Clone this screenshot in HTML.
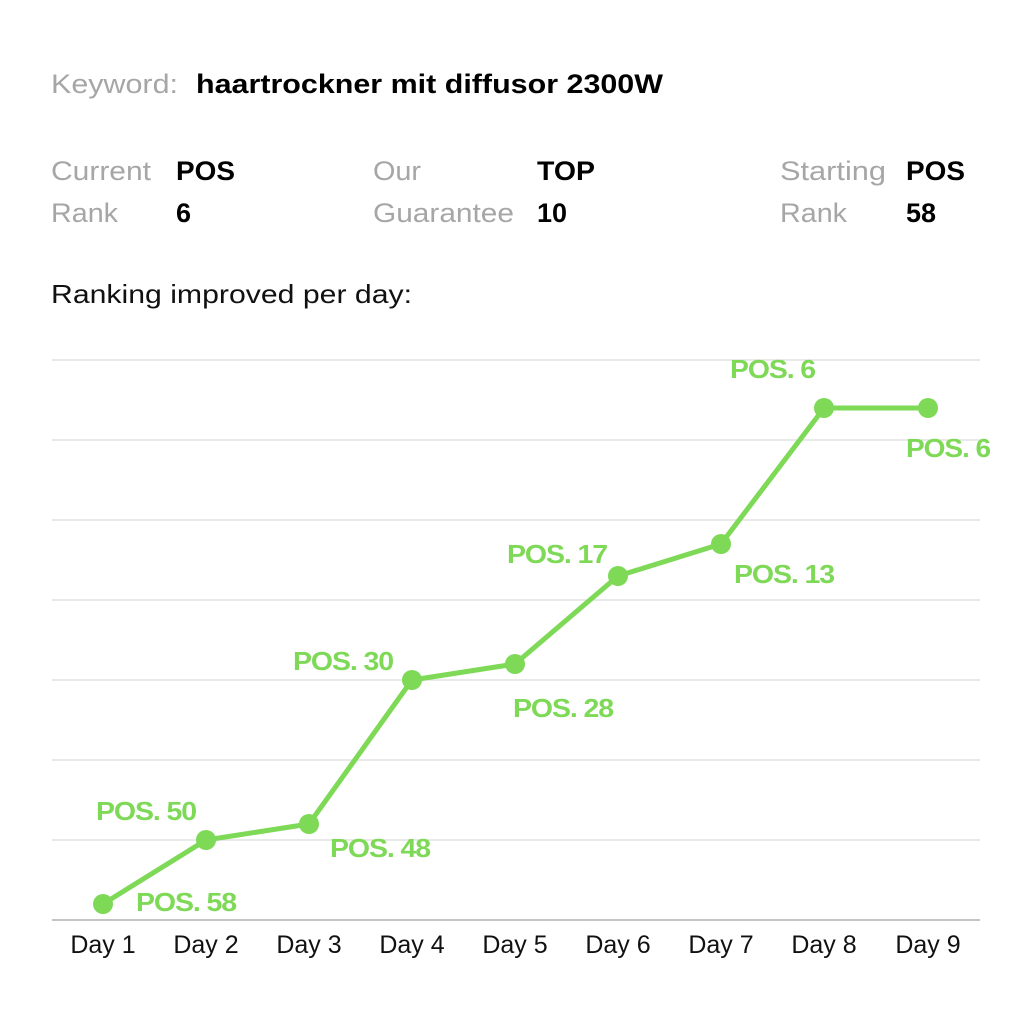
<!DOCTYPE html>
<html><head><style>body{margin:0;background:#fff}svg{display:block}</style></head><body>
<svg width="1024" height="1024" xmlns="http://www.w3.org/2000/svg" font-family="Liberation Sans, sans-serif">
<rect width="1024" height="1024" fill="#fff"/>
<g font-size="27" fill="#a6a6a6">
<text x="51" y="93" textLength="127" lengthAdjust="spacingAndGlyphs">Keyword:</text>
<text x="51" y="180" textLength="100" lengthAdjust="spacingAndGlyphs">Current</text><text x="51" y="222" textLength="67" lengthAdjust="spacingAndGlyphs">Rank</text>
<text x="373" y="180" textLength="48" lengthAdjust="spacingAndGlyphs">Our</text><text x="373" y="222" textLength="141" lengthAdjust="spacingAndGlyphs">Guarantee</text>
<text x="780" y="180" textLength="106" lengthAdjust="spacingAndGlyphs">Starting</text><text x="780" y="222" textLength="67" lengthAdjust="spacingAndGlyphs">Rank</text>
</g>
<g font-size="27" font-weight="bold" fill="#000">
<text x="196" y="93" textLength="467" lengthAdjust="spacingAndGlyphs">haartrockner mit diffusor 2300W</text>
<text x="176" y="180" textLength="59" lengthAdjust="spacingAndGlyphs">POS</text><text x="176" y="222">6</text>
<text x="537" y="180" textLength="58" lengthAdjust="spacingAndGlyphs">TOP</text><text x="537" y="222">10</text>
<text x="906" y="180" textLength="59" lengthAdjust="spacingAndGlyphs">POS</text><text x="906" y="222">58</text>
</g>
<text x="51" y="303" font-size="26" fill="#111" textLength="361" lengthAdjust="spacingAndGlyphs">Ranking improved per day:</text>
<g stroke="#dcdcdc" stroke-width="1.2">
<line x1="52" x2="980" y1="360" y2="360"/><line x1="52" x2="980" y1="440" y2="440"/>
<line x1="52" x2="980" y1="520" y2="520"/><line x1="52" x2="980" y1="600" y2="600"/>
<line x1="52" x2="980" y1="680" y2="680"/><line x1="52" x2="980" y1="760" y2="760"/>
<line x1="52" x2="980" y1="840" y2="840"/>
</g>
<line x1="52" x2="980" y1="920" y2="920" stroke="#b0b0b0" stroke-width="1.5"/>
<g font-size="25" fill="#111" text-anchor="middle">
<text x="103" y="953">Day 1</text><text x="206" y="953">Day 2</text><text x="309" y="953">Day 3</text>
<text x="412" y="953">Day 4</text><text x="515" y="953">Day 5</text><text x="618" y="953">Day 6</text>
<text x="721" y="953">Day 7</text><text x="824" y="953">Day 8</text><text x="928" y="953">Day 9</text>
</g>
<polyline points="103,904 206,840 309,824 412,680 515,664 618,576 721,544 824,408 928,408" fill="none" stroke="#7ed957" stroke-width="5" stroke-linejoin="round"/>
<g fill="#7ed957">
<circle cx="103" cy="904" r="10"/><circle cx="206" cy="840" r="10"/><circle cx="309" cy="824" r="10"/>
<circle cx="412" cy="680" r="10"/><circle cx="515" cy="664" r="10"/><circle cx="618" cy="576" r="10"/>
<circle cx="721" cy="544" r="10"/><circle cx="824" cy="408" r="10"/><circle cx="928" cy="408" r="10"/>
</g>
<g font-size="26" font-weight="bold" fill="#7ed957" letter-spacing="-1">
<text x="96" y="820" textLength="100" lengthAdjust="spacingAndGlyphs">POS. 50</text>
<text x="136" y="911" textLength="100" lengthAdjust="spacingAndGlyphs">POS. 58</text>
<text x="330" y="857" textLength="100" lengthAdjust="spacingAndGlyphs">POS. 48</text>
<text x="293" y="670" textLength="100" lengthAdjust="spacingAndGlyphs">POS. 30</text>
<text x="513" y="717" textLength="100" lengthAdjust="spacingAndGlyphs">POS. 28</text>
<text x="507" y="563" textLength="100" lengthAdjust="spacingAndGlyphs">POS. 17</text>
<text x="734" y="583" textLength="100" lengthAdjust="spacingAndGlyphs">POS. 13</text>
<text x="730" y="378" textLength="85" lengthAdjust="spacingAndGlyphs">POS. 6</text>
<text x="906" y="457" textLength="84" lengthAdjust="spacingAndGlyphs">POS. 6</text>
</g>
</svg>
</body></html>
